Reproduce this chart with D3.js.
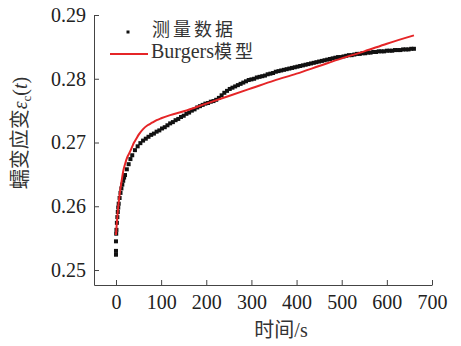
<!DOCTYPE html>
<html>
<head>
<meta charset="utf-8">
<script src="https://cdn.jsdelivr.net/npm/d3@7"></script>
<style>
  body { margin: 0; background: #fff; }
  .axis path, .axis line { stroke: #444; }
  .axis text { font-family: "Liberation Serif", serif; font-size: 20px; fill: #222; }
</style>
</head>
<body>
<div id="chart"></div>
<script>
// measured creep strain (black squares)
const measuredTime = [0, 0, 0, 0.5, 1, 2, 3, 4, 5, 6, 8, 10, 12, 14, 16, 18, 20, 24, 28, 32, 36, 42, 48,
	54, 60, 66, 72, 78, 84, 90, 96, 102, 108, 114, 120, 126, 132, 138, 144, 150, 156, 162, 168, 174,
	180, 186, 192, 198, 204, 210, 216, 222, 228, 234, 240, 246, 252, 258, 264, 270, 276, 282, 288,
	294, 300, 306, 312, 318, 324, 330, 336, 342, 348, 354, 360, 366, 372, 378, 384, 390, 396, 402,
	408, 414, 420, 426, 432, 438, 444, 450, 456, 462, 468, 474, 480, 486, 492, 498, 504, 510, 516,
	522, 528, 534, 540, 546, 552, 558, 564, 570, 576, 582, 588, 594, 600, 606, 612, 618, 624, 630,
	636, 642, 648, 654, 660];
const measuredStrain = [0.2545, 0.2530, 0.2524, 0.2557, 0.2563, 0.2574, 0.2583, 0.2591, 0.2598, 0.2604,
	0.2613, 0.2621, 0.2628, 0.2634, 0.2640, 0.2645, 0.2649, 0.2658, 0.2666, 0.2674, 0.2680, 0.2688, 0.2694,
	0.2699, 0.2703, 0.2706, 0.2709, 0.2712, 0.2714, 0.2717, 0.2719, 0.2722, 0.2724, 0.2727, 0.2730, 0.2732,
	0.2735, 0.2737, 0.2740, 0.2742, 0.2745, 0.2747, 0.2750, 0.2752, 0.2755, 0.2757, 0.2759, 0.2761, 0.2762,
	0.2764, 0.2765, 0.2767, 0.2770, 0.2774, 0.2778, 0.2781, 0.2784, 0.2786, 0.2788, 0.2790, 0.2792, 0.2794,
	0.2796, 0.2798, 0.2799, 0.2800, 0.2802, 0.2803, 0.2804, 0.2805, 0.2807, 0.2808, 0.2809, 0.2811, 0.2812,
	0.2813, 0.2814, 0.2815, 0.2816, 0.2817, 0.2818, 0.2819, 0.2820, 0.2821, 0.2822, 0.2823, 0.2824, 0.2825,
	0.2826, 0.2827, 0.2828, 0.2829, 0.2830, 0.2831, 0.2832, 0.2833, 0.2834, 0.2834, 0.2835, 0.2836, 0.2837,
	0.2837, 0.2838, 0.2839, 0.2839, 0.2840, 0.2840, 0.2841, 0.2841, 0.2842, 0.2842, 0.2843, 0.2843, 0.2843,
	0.2844, 0.2844, 0.2844, 0.2845, 0.2845, 0.2845, 0.2846, 0.2846, 0.2846, 0.2847, 0.2847];

// Burgers model fit (red line)
const modelTime = [0, 2, 4, 6, 8, 10, 13, 16, 20, 25, 30, 35, 40, 45, 50, 60, 70, 80, 90, 100, 120,
	150, 200, 250, 300, 350, 400, 450, 500, 550, 600, 660];
const modelStrain = [0.2555, 0.2575, 0.2592, 0.2606, 0.2618, 0.2628, 0.2642, 0.2655, 0.2666, 0.2677,
	0.2684, 0.2692, 0.2700, 0.2706, 0.2712, 0.2721, 0.2727, 0.2731, 0.2735, 0.2738, 0.2743, 0.2749,
	0.2761, 0.2773, 0.2785, 0.2797, 0.2808, 0.2820, 0.2832, 0.2843, 0.2855, 0.2868];

const xTicks = [0, 100, 200, 300, 400, 500, 600, 700];
const yTicks = [0.25, 0.26, 0.27, 0.28, 0.29];

const width = 461, height = 346;
const cjk = '"Noto Sans CJK SC", sans-serif';
const serif = '"Liberation Serif", serif';

const svg = d3.select('#chart').append('svg')
	.attr('width', width)
	.attr('height', height);

const xScale = d3.scaleLinear().domain([-48.7, 700]).range([94, 432]);
const yScale = d3.scaleLinear().domain([0.24765, 0.29]).range([285, 15]);

svg.append('g')
	.attr('class', 'x axis')
	.attr('transform', 'translate(0,285)')
	.call(d3.axisBottom(xScale).tickValues(xTicks).tickSize(-5).tickSizeOuter(0).tickPadding(10));

svg.append('g')
	.attr('class', 'y axis')
	.attr('transform', 'translate(94,0)')
	.call(d3.axisLeft(yScale).tickValues(yTicks).tickSize(-5).tickSizeOuter(0).tickPadding(8)
		.tickFormat(d3.format('.2f')));

// measured points
const measured = measuredTime.map((t, i) => ({ t, v: measuredStrain[i] }));
const ms = 4;
svg.append('g').selectAll('rect')
	.data(measured)
	.enter().append('rect')
	.attr('x', d => xScale(d.t) - ms / 2)
	.attr('y', d => yScale(d.v) - ms / 2)
	.attr('width', ms)
	.attr('height', ms)
	.attr('fill', '#111');

// model line
const model = modelTime.map((t, i) => ({ t, v: modelStrain[i] }));
svg.append('path')
	.datum(model)
	.attr('fill', 'none')
	.attr('stroke', '#e52527')
	.attr('stroke-width', 2)
	.attr('d', d3.line().x(d => xScale(d.t)).y(d => yScale(d.v)).curve(d3.curveMonotoneX));

// legend
svg.append('rect')
	.attr('x', 126.5).attr('y', 30.5).attr('width', 3).attr('height', 3).attr('fill', '#111');
svg.append('text')
	.attr('x', 152).attr('y', 36)
	.style('font-family', cjk).style('font-size', '18px').style('letter-spacing', '3px')
	.attr('fill', '#333')
	.text('测量数据');
svg.append('line')
	.attr('x1', 110).attr('x2', 148).attr('y1', 54).attr('y2', 54)
	.attr('stroke', '#e52527').attr('stroke-width', 2);
const burg = svg.append('text')
	.attr('x', 151).attr('y', 58)
	.attr('fill', '#333');
burg.append('tspan').style('font-family', serif).style('font-size', '20px').text('Burgers');
burg.append('tspan').style('font-family', cjk).style('font-size', '18px').style('letter-spacing', '3px').text('模型');

// axis titles
svg.append('text')
	.attr('x', 281).attr('y', 337)
	.attr('text-anchor', 'middle')
	.attr('fill', '#333')
	.style('font-size', '20px')
	.call(t => {
		t.append('tspan').style('font-family', cjk).text('时间');
		t.append('tspan').style('font-family', serif).text('/s');
	});

const yTitle = svg.append('text')
	.attr('transform', 'translate(27,133) rotate(-90)')
	.attr('text-anchor', 'middle')
	.attr('fill', '#333')
	.style('font-size', '20px');
yTitle.append('tspan').style('font-family', cjk).text('蠕变应变');
yTitle.append('tspan').style('font-family', serif).style('font-style', 'italic').text('ε');
yTitle.append('tspan').style('font-family', serif).style('font-size', '13px').attr('dy', 4).text('c');
yTitle.append('tspan').style('font-family', serif).attr('dy', -4).text('(');
yTitle.append('tspan').style('font-family', serif).style('font-style', 'italic').text('t');
yTitle.append('tspan').style('font-family', serif).text(')');
</script>
</body>
</html>
